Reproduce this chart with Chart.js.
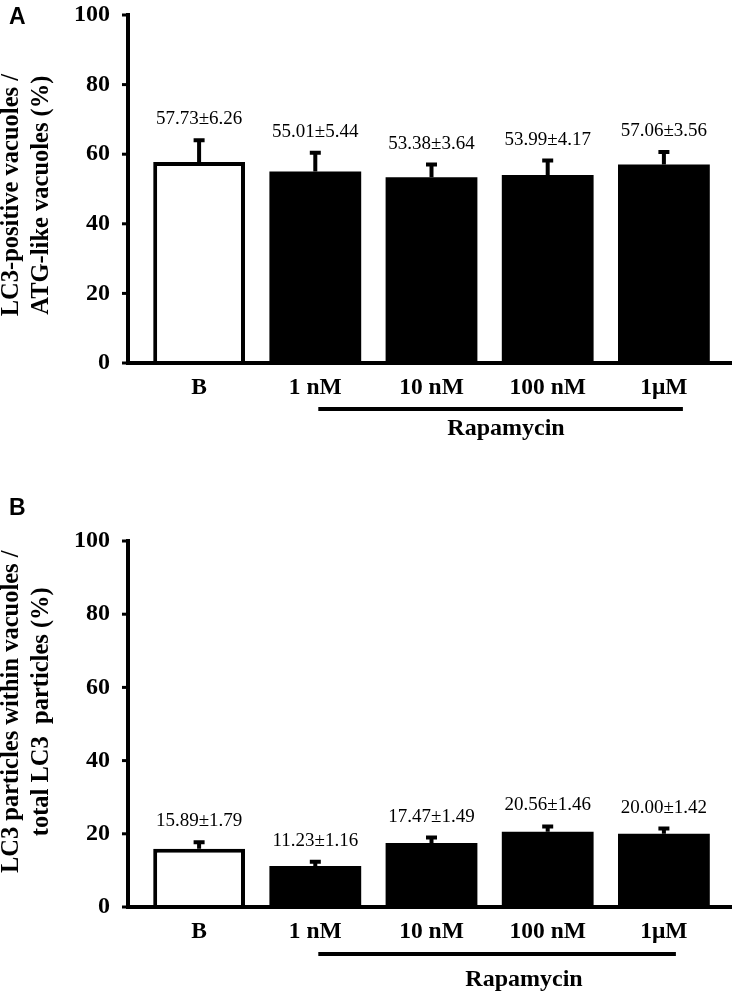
<!DOCTYPE html>
<html lang="en">
<head>
  <meta charset="UTF-8" />
  <title>LC3 vacuoles / rapamycin</title>
  <script src="https://cdn.jsdelivr.net/npm/chart.js"></script>
  <style>
    body { margin: 0; background: #fff; }
    .panel { position: absolute; left: 0; width: 739px; }
    #panelA { top: 0; height: 460px; }
    #panelB { top: 470px; height: 530px; }
    .letter {
      position: absolute;
      font: 900 23px "Liberation Sans", Arial, sans-serif;
      color: #000;
    }
  </style>
</head>
<body>
  <div class="panel" id="panelA"><canvas id="chartA"></canvas></div>
  <div class="panel" id="panelB"><canvas id="chartB"></canvas></div>
  <div class="letter" style="left:9px; top:3px">A</div>
  <div class="letter" style="left:9px; top:494px">B</div>

  <script>
    const categories = ['B', '1 nM', '10 nM', '100 nM', '1μM'];
    const vacuoleMeans = [57.73, 55.01, 53.38, 53.99, 57.06];
    const vacuoleErrors = [6.26, 5.44, 3.64, 4.17, 3.56];
    const particleMeans = [15.89, 11.23, 17.47, 20.56, 20.00];
    const particleErrors = [1.79, 1.16, 1.49, 1.46, 1.42];
    const yTicks = [0, 20, 40, 60, 80, 100];
    const barFills = ['#ffffff', '#000000', '#000000', '#000000', '#000000'];
    const barBorders = [4, 0, 0, 0, 0];
    const treatmentLabel = 'Rapamycin';

    const serif = '"Liberation Serif", "Times New Roman", serif';

    // error bars, value labels, axis lines and the treatment bracket
    const decorPlugin = {
      id: 'decor',
      afterDatasetsDraw(chart, args, opts) {
        const { ctx, chartArea } = chart;
        const x = chart.scales.x;
        const y = chart.scales.y;
        const means = chart.data.datasets[0].data;
        const errors = opts.errors;
        const y0 = y.getPixelForValue(0);
        const axisX = chartArea.left - 13;

        ctx.save();
        ctx.strokeStyle = '#000';
        ctx.fillStyle = '#000';

        // upper error bars + mean±sem text
        means.forEach((m, i) => {
          const cx = x.getPixelForValue(i);
          const top = y.getPixelForValue(m + errors[i]);
          ctx.lineWidth = 4;
          ctx.beginPath();
          ctx.moveTo(cx, y.getPixelForValue(m));
          ctx.lineTo(cx, top);
          ctx.moveTo(cx - 5.5, top);
          ctx.lineTo(cx + 5.5, top);
          ctx.stroke();

          ctx.font = '19px ' + serif;
          ctx.textAlign = 'center';
          ctx.textBaseline = 'middle';
          ctx.fillText(m.toFixed(2) + '±' + errors[i].toFixed(2), cx, top - 21);
        });

        // axis lines
        ctx.lineWidth = 4;
        ctx.beginPath();
        ctx.moveTo(axisX, y.getPixelForValue(100) - 2);
        ctx.lineTo(axisX, y0);
        ctx.moveTo(axisX - 2, y0);
        ctx.lineTo(chartArea.right + 10, y0);
        ctx.stroke();

        ctx.lineWidth = 3;
        yTicks.forEach(v => {
          const py = y.getPixelForValue(v);
          ctx.beginPath();
          ctx.moveTo(axisX - 6, py);
          ctx.lineTo(axisX, py);
          ctx.stroke();
        });

        // bracket under the rapamycin groups
        const b = opts.bracket;
        ctx.lineWidth = 4;
        ctx.beginPath();
        ctx.moveTo(x.getPixelForValue(1) + b.startOffset, y0 + b.gap);
        ctx.lineTo(x.getPixelForValue(4) + b.endOffset, y0 + b.gap);
        ctx.stroke();

        ctx.font = 'bold 24px ' + serif;
        ctx.textAlign = 'center';
        ctx.textBaseline = 'middle';
        ctx.fillText(treatmentLabel, b.labelX, y0 + b.labelGap);

        ctx.restore();
      }
    };

    function makeChart(id, means, errors, titleLines, cfg) {
      return new Chart(document.getElementById(id), {
        type: 'bar',
        data: {
          labels: categories,
          datasets: [{
            data: means,
            backgroundColor: barFills,
            borderColor: '#000',
            borderWidth: barBorders,
            barPercentage: 0.79,
            categoryPercentage: 1
          }]
        },
        options: {
          responsive: true,
          maintainAspectRatio: false,
          animation: false,
          layout: { padding: { top: cfg.top, right: 17, left: 0, bottom: 0 } },
          plugins: {
            legend: { display: false },
            tooltip: { enabled: false },
            decor: { errors: errors, bracket: cfg.bracket }
          },
          scales: {
            x: {
              ticks: {
                padding: 11,
                color: '#000',
                maxRotation: 0,
                autoSkip: false,
                font: { family: serif, size: 23.5, weight: 'bold' }
              },
              grid: { display: false, drawTicks: false },
              border: { display: false },
              afterFit: s => { s.height = cfg.xHeight; }
            },
            y: {
              min: 0,
              max: 100,
              ticks: {
                stepSize: 20,
                padding: 31,
                color: '#000',
                font: { family: serif, size: 24, weight: 'bold' }
              },
              grid: { display: false, drawTicks: false },
              border: { display: false },
              title: {
                display: true,
                text: titleLines,
                color: '#000',
                padding: { top: -3, bottom: 0 },
                font: { family: serif, size: 24.5, weight: 'bold', lineHeight: 1.22 }
              },
              // fixed width; drop the tick-padding that would push the plot top down
              afterFit: s => { s.width = 141; s.paddingTop = 0; s.paddingBottom = 0; }
            }
          }
        },
        plugins: [decorPlugin]
      });
    }

    makeChart('chartA', vacuoleMeans, vacuoleErrors,
      ['LC3-positive vacuoles /  ', 'ATG-like vacuoles (%)  '],
      { top: 15, xHeight: 97, bracket: { startOffset: 3, endOffset: 19, gap: 46, labelX: 506, labelGap: 66 } });

    makeChart('chartB', particleMeans, particleErrors,
      ['    LC3 particles within vacuoles /', '    total LC3  particles (%)'],
      { top: 71, xHeight: 93, bracket: { startOffset: 3, endOffset: 12, gap: 47, labelX: 524, labelGap: 73 } });
  </script>
</body>
</html>
